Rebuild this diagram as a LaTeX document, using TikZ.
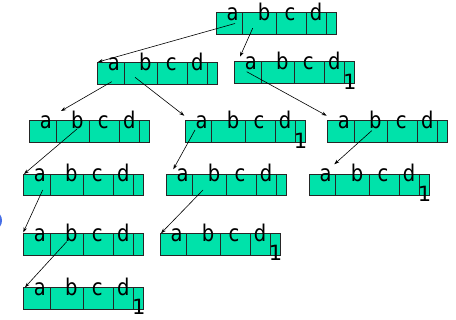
\documentclass[tikz,border=0pt]{standalone}
\usepackage{fontspec}
\setmainfont{DejaVu Sans}
\usetikzlibrary{arrows.meta}
\definecolor{keygreen}{RGB}{0,226,170}
\definecolor{blobblue}{RGB}{70,110,230}
\tikzset{
  keybox/.style={draw=black!85, fill=keygreen, line width=0.8pt, minimum width=120pt,
    minimum height=21.7pt, inner sep=0pt, outer sep=0pt, anchor=north west},
  cellline/.style={draw=black!85, line width=0.8pt},
  keychar/.style={anchor=base, inner sep=0pt, font=\fontsize{23}{23}\selectfont},
  onechar/.style={anchor=base, inner sep=0pt, font=\fontsize{21}{21}\selectfont},
  ptr/.style={line width=0.6pt, -{Stealth[length=5pt,width=3.5pt]}}
}
% one key record: name, left, top
\newcommand{\keyrec}[3]{%
  \node[keybox] (#1) at (#2,#3) {};
  \foreach \dx in {26.6,60.3,90,110}
    \draw[cellline] ([xshift=\dx pt]#1.north west) -- ([xshift=\dx pt]#1.south west);
  \foreach \ch/\dx in {a/16.5,b/48,c/74,d/100}
    \node[keychar] (#1-\ch) at ([shift={(\dx,8)}]#1.north west) {\scalebox{.85}[1]{\ch}};
}
\newcommand{\keyone}[1]{%
  \node[onechar] (#1-one) at ([shift={(-4.5,6)}]#1.south east) {1};
}
\begin{document}
\begin{tikzpicture}[x=1pt,y=-1pt]
  \useasboundingbox (0,0) rectangle (456,320);
  \fill[blobblue] (-4,220.5) ellipse (6 and 8);

  \keyrec{b1}{216}{12.5}
  \keyrec{b2}{97.3}{62.3}
  \keyrec{b3}{234.3}{61.7} \keyone{b3}
  \keyrec{b4}{29.3}{120.7}
  \keyrec{b5}{185}{120.7} \keyone{b5}
  \keyrec{b6}{327.3}{120.7}
  \keyrec{b7}{23.3}{174}
  \keyrec{b8}{166}{174}
  \keyrec{b9}{309}{174} \keyone{b9}
  \keyrec{b10}{23.3}{233.3}
  \keyrec{b11}{160}{233.3} \keyone{b11}
  \keyrec{b12}{23.3}{287.3} \keyone{b12}

  % parent -> child pointers
  \foreach \from/\fx/\fy/\to/\tx/\ty in {
      b1/19/11/b2/0.7/-0.3, b1/36.7/15.7/b3/5.7/-5,
      b2/14.4/19.4/b4/31.7/-9.7, b2/37.7/15/b5/-0.7/-5,
      b3/12.4/10/b6/-0.6/-5,
      b4/47.7/8.3/b7/0.7/0, b5/10/9.3/b8/7.3/-4.7, b6/44.4/10/b9/25.3/-9.7,
      b7/19.4/16/b10/0/-1, b8/37/16/b11/1/0,
      b10/43.4/8.4/b12/1.7/0}
    \draw[ptr] ([shift={(\fx,\fy)}]\from.north west) -- ([shift={(\tx,\ty)}]\to.north west);
\end{tikzpicture}
\end{document}
